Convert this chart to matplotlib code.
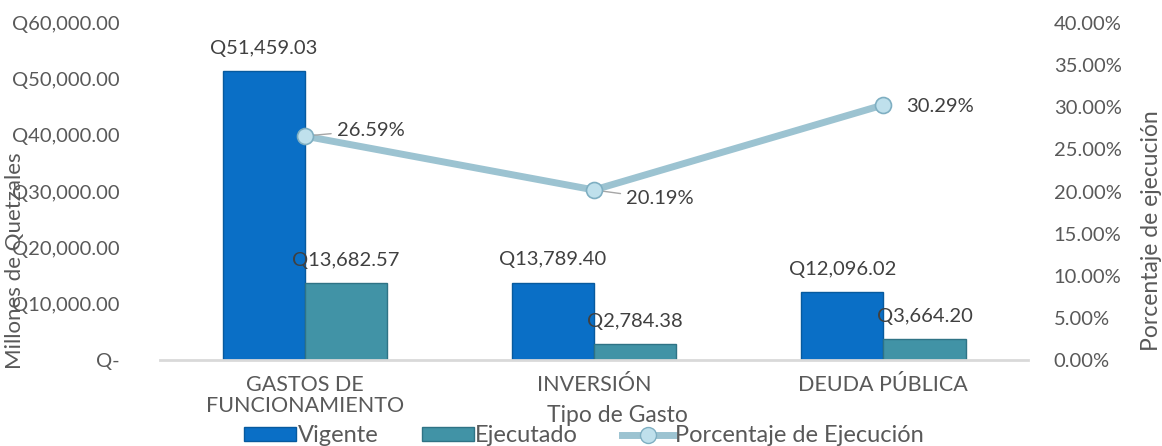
import matplotlib.pyplot as plt
from matplotlib.patches import Patch
from matplotlib.lines import Line2D
from matplotlib.ticker import FuncFormatter

plt.rcParams['font.family'] = ['Lato', 'DejaVu Sans']

categorias = ["GASTOS DE\nFUNCIONAMIENTO", "INVERSIÓN", "DEUDA PÚBLICA"]
vigente = [51459.03, 13789.40, 12096.02]
ejecutado = [13682.57, 2784.38, 3664.20]
porcentaje = [26.59, 20.19, 30.29]

GRIS = "#595959"
AZUL = "#0A6FC6"
VERDE = "#4193A6"
LINEA = "#9CC3D1"

fig = plt.figure(figsize=(11.62, 4.46), dpi=100)
ax = fig.add_axes([0.1377, 0.193, 0.747, 0.755])
ax2 = ax.twinx()

x = list(range(len(categorias)))
w = 0.284
b1 = ax.bar([i - w / 2 for i in x], vigente, w, color=AZUL, edgecolor="#075A9E", linewidth=1)
b2 = ax.bar([i + w / 2 for i in x], ejecutado, w, color=VERDE, edgecolor="#2F7385", linewidth=1)

ax.set_xlim(-0.5, 2.5)
ax.set_ylim(0, 60000)
ax.set_yticks(range(0, 60001, 10000))
ax.yaxis.set_major_formatter(FuncFormatter(lambda v, p: "Q-" if v == 0 else f"Q{v:,.2f}"))
ax.set_xticks(x)
ax.set_xticklabels(categorias, linespacing=1.05)

for rect, v in zip(b1, vigente):
    ax.annotate(f"Q{v:,.2f}", (rect.get_x() + rect.get_width() / 2, v),
                xytext=(0, 23), textcoords="offset pixels", ha="center", va="center",
                fontsize=14.5, color="#404040")
for rect, v in zip(b2, ejecutado):
    ax.annotate(f"Q{v:,.2f}", (rect.get_x() + rect.get_width() / 2, v),
                xytext=(0, 23), textcoords="offset pixels", ha="center", va="center",
                fontsize=14.5, color="#404040")

ax2.plot(x, porcentaje, color=LINEA, linewidth=5, solid_capstyle="round", zorder=3)
ax2.plot(x, porcentaje, linestyle="none", marker="o", markersize=11.5,
         markerfacecolor="#BFE0EC", markeredgecolor="#7FAFC2", markeredgewidth=1.2, zorder=4)
ax2.set_ylim(0, 40)
ax2.set_yticks(range(0, 41, 5))
ax2.yaxis.set_major_formatter(FuncFormatter(lambda v, p: f"{v:.2f}%"))

offsets = [(32, 6), (32, -9), (23, -2)]
for i, (p, off) in enumerate(zip(porcentaje, offsets)):
    ax2.annotate(f"{p:.2f}%", (i, p), xytext=off, textcoords="offset pixels",
                 ha="left", va="center", fontsize=14.5, color="#404040",
                 arrowprops=dict(arrowstyle="-", color="#A6A6A6", lw=1,
                                 shrinkA=2, shrinkB=4) if i < 2 else None)

for a in (ax, ax2):
    for s in a.spines.values():
        s.set_visible(False)
    a.tick_params(length=0, labelsize=14.5, labelcolor=GRIS)
ax.spines["bottom"].set_visible(True)
ax.spines["bottom"].set_color("#D9D9D9")
ax.spines["bottom"].set_linewidth(2)
ax.tick_params(axis="x", pad=11, labelsize=15.5)
ax.tick_params(axis="y", pad=29)
ax2.tick_params(axis="y", pad=18.5)

fig.text(15 / 1162, 0.415, "Millones de Quetzales", rotation=90, ha="center", va="center",
         fontsize=16, color=GRIS)
fig.text(1152 / 1162, 0.484, "Porcentaje de ejecución", rotation=90, ha="center", va="center",
         fontsize=16.5, color=GRIS)
fig.text(617 / 1162, (446 - 415) / 446, "Tipo de Gasto", ha="center", va="center",
         fontsize=16.5, color=GRIS)

handles = [
    Patch(facecolor=AZUL, edgecolor="#075A9E"),
    Patch(facecolor=VERDE, edgecolor="#2F7385"),
    Line2D([0], [0], color=LINEA, linewidth=5, marker="o", markersize=11.5,
           markerfacecolor="#BFE0EC", markeredgecolor="#7FAFC2"),
]
fig.legend(handles, ["Vigente", "Ejecutado", "Porcentaje de Ejecución"], loc="center",
           bbox_to_anchor=(584 / 1162, 10 / 446), ncol=3, frameon=False, fontsize=17,
           labelcolor=GRIS, handlelength=2.2, handletextpad=0.05, columnspacing=1.85,
           handleheight=0.5, borderpad=0)

fig.savefig("out.png", dpi=100)
